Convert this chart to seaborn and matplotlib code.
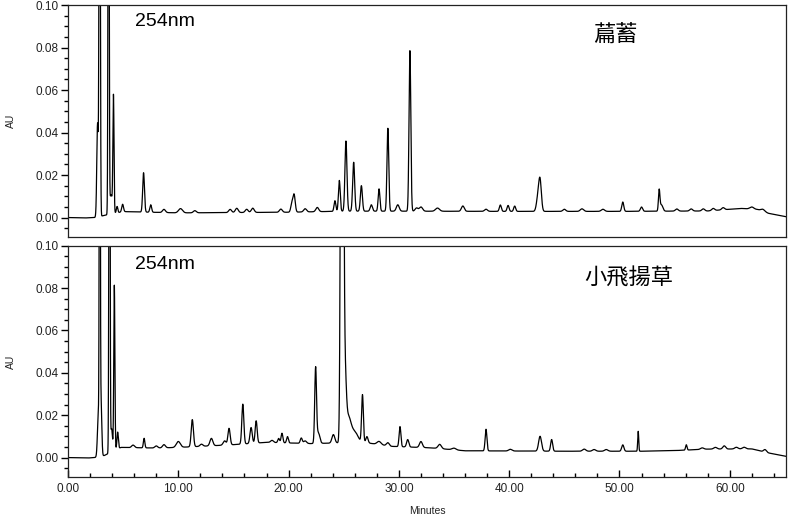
import numpy as np
import pandas as pd
import matplotlib
matplotlib.use("Agg")
import matplotlib.pyplot as plt
import seaborn as sns
from matplotlib.ticker import MultipleLocator, FormatStrFormatter

# ---------------- data ----------------
wavelength = "254nm"
top_name = "萹蓄"
bottom_name = "小飛揚草"
x_label = "Minutes"
y_label = "AU"

# top trace (萹蓄): baseline knots (min, AU)
top_base_t = [0.0, 1.5, 2.4, 3.3, 5.0, 10.0, 20.0, 25.0, 30.0, 40.0, 50.0, 58.0, 61.0, 62.5, 63.5, 65.3]
top_base_au = [0.0, -0.0002, 0.0, 0.001, 0.0028, 0.0022, 0.0025, 0.003, 0.003, 0.0029, 0.0029, 0.0031, 0.0043, 0.0038, 0.002, 0.0002]
# top trace peaks: retention time, height above baseline, width (sigma)
top_peak_t = [2.68, 2.87, 3.68, 3.9, 4.12, 4.45, 4.95, 6.85, 7.5, 8.7, 10.2, 11.5, 14.7, 15.3, 16.2,
              16.75, 19.3, 20.3, 20.5, 21.5, 22.6, 24.2, 24.6, 25.2, 25.9, 26.6, 27.5, 28.2, 29.0,
              29.9, 31.0, 31.6, 32.0, 33.5, 35.8, 37.9, 39.2, 39.9, 40.5, 42.6, 42.8, 45.0, 46.6,
              48.5, 50.3, 52.0, 53.6, 53.8, 55.2, 56.5, 57.6, 58.5, 59.4, 62.0, 63.0]
top_peak_h = [0.044, 0.30, 0.30, 0.009, 0.054, 0.003, 0.0035, 0.0185, 0.0035, 0.0015, 0.002, 0.001, 0.0015, 0.002, 0.0015,
              0.002, 0.0015, 0.004, 0.008, 0.0015, 0.002, 0.005, 0.0145, 0.033, 0.023, 0.012, 0.003, 0.0105, 0.039,
              0.003, 0.0755, 0.0015, 0.002, 0.0015, 0.0025, 0.001, 0.003, 0.0028, 0.0025, 0.006, 0.014, 0.001, 0.0012,
              0.001, 0.0044, 0.002, 0.0095, 0.003, 0.001, 0.001, 0.001, 0.001, 0.001, 0.001, 0.001]
top_peak_w = [0.07, 0.05, 0.045, 0.13, 0.05, 0.065, 0.08, 0.08, 0.08, 0.13, 0.18, 0.13, 0.13, 0.13, 0.13,
              0.13, 0.13, 0.1, 0.1, 0.13, 0.13, 0.08, 0.08, 0.09, 0.09, 0.09, 0.1, 0.08, 0.08,
              0.13, 0.08, 0.13, 0.15, 0.18, 0.13, 0.13, 0.09, 0.09, 0.09, 0.13, 0.12, 0.13, 0.15,
              0.15, 0.09, 0.1, 0.065, 0.13, 0.13, 0.13, 0.13, 0.13, 0.13, 0.18, 0.18]

# bottom trace (小飛揚草): baseline knots
bot_base_t = [0.0, 1.8, 2.4, 3.3, 4.8, 8.0, 10.0, 12.0, 15.0, 18.0, 22.0, 24.4, 27.2, 29.3, 32.9, 36.0, 45.0, 52.0, 55.0, 58.0, 62.0, 63.5, 65.3]
bot_base_au = [0.0, -0.0002, 0.0, 0.001, 0.0048, 0.0045, 0.0048, 0.0053, 0.0061, 0.0072, 0.0066, 0.0069, 0.0069, 0.0053, 0.0046, 0.0032, 0.003, 0.003, 0.0033, 0.004, 0.0041, 0.0022, 0.0004]
bot_peak_t = [2.75, 2.88, 3.0, 3.76, 3.95, 4.2, 4.5, 5.9, 6.9, 8.0, 8.7, 10.0, 11.27, 12.1, 13.0, 14.2,
              14.6, 15.85, 16.6, 17.06, 18.5, 19.1, 19.4, 19.9, 21.15, 21.5, 22.45, 22.7, 24.06, 24.85,
              25.1, 25.4, 26.0, 26.7, 27.1, 28.2, 29.0, 30.1, 30.8, 32.0, 33.7, 35.0, 37.9, 40.1,
              42.8, 43.85, 46.8, 47.7, 48.8, 50.3, 51.7, 56.06, 57.5, 58.7, 59.5, 60.6, 61.3, 63.2]
bot_peak_h = [0.02, 0.30, 0.025, 0.30, 0.011, 0.078, 0.008, 0.0012, 0.0045, 0.001, 0.0015, 0.0028, 0.0128, 0.001, 0.0035, 0.002,
              0.0078, 0.0188, 0.0075, 0.0105, 0.001, 0.002, 0.0045, 0.003, 0.0025, 0.0012, 0.0355, 0.005, 0.004, 0.5,
              0.03, 0.012, 0.005, 0.0225, 0.003, 0.0015, 0.0015, 0.0095, 0.0035, 0.0028, 0.002, 0.0008, 0.0102, 0.0008,
              0.007, 0.0055, 0.001, 0.0008, 0.0008, 0.003, 0.0094, 0.0025, 0.0007, 0.0008, 0.0015, 0.0008, 0.0008, 0.0012]
bot_peak_w = [0.08, 0.04, 0.065, 0.045, 0.08, 0.05, 0.065, 0.13, 0.065, 0.13, 0.13, 0.18, 0.1, 0.13, 0.13, 0.13,
              0.1, 0.09, 0.1, 0.09, 0.13, 0.08, 0.08, 0.08, 0.09, 0.13, 0.08, 0.13, 0.13, 0.1,
              0.12, 0.25, 0.3, 0.08, 0.1, 0.18, 0.13, 0.08, 0.1, 0.13, 0.15, 0.18, 0.08, 0.15,
              0.13, 0.09, 0.15, 0.15, 0.15, 0.1, 0.045, 0.065, 0.15, 0.15, 0.13, 0.15, 0.15, 0.13]


def trace(base_t, base_au, pk_t, pk_h, pk_w):
    t = np.arange(0.0, 65.3, 0.005)
    y = np.interp(t, base_t, base_au)
    for c, h, w in zip(pk_t, pk_h, pk_w):
        y = y + h * np.exp(-0.5 * ((t - c) / w) ** 2)
    return pd.DataFrame({"Minutes": t, "AU": y})


top_df = trace(top_base_t, top_base_au, top_peak_t, top_peak_h, top_peak_w)
bot_df = trace(bot_base_t, bot_base_au, bot_peak_t, bot_peak_h, bot_peak_w)

# ---------------- drawing ----------------
sns.set_style("ticks", rc={"xtick.bottom": True, "ytick.left": True})
plt.rcParams["font.family"] = ["Liberation Sans", "DejaVu Sans"]
plt.rcParams.update({
    "ytick.major.size": 5, "ytick.minor.size": 3, "xtick.major.size": 5, "xtick.minor.size": 3,
    "ytick.major.width": 1.0, "ytick.minor.width": 1.0, "xtick.major.width": 1.0, "xtick.minor.width": 1.0,
    "ytick.direction": "out", "xtick.direction": "in",
    "xtick.color": "black", "ytick.color": "black",
})

fig = plt.figure(figsize=(7.89, 5.21), dpi=100)
ax1 = fig.add_axes([0.0862, 0.5445, 0.910, 0.4459])
ax2 = fig.add_axes([0.0862, 0.0839, 0.910, 0.4445])

for ax, df, name, ty, nx, ny in [(ax1, top_df, top_name, 0.927, 0.762, 0.875),
                                  (ax2, bot_df, bottom_name, 0.917, 0.781, 0.861)]:
    sns.lineplot(data=df, x="Minutes", y="AU", ax=ax, color="black", lw=0.9,
                 estimator=None, sort=False)
    ax.set_xlim(0, 65.1)
    ax.set_ylim(-0.0093, 0.10)
    ax.yaxis.set_major_locator(MultipleLocator(0.02))
    ax.yaxis.set_minor_locator(MultipleLocator(0.005))
    ax.yaxis.set_major_formatter(FormatStrFormatter("%.2f"))
    ax.xaxis.set_major_locator(MultipleLocator(10))
    ax.xaxis.set_minor_locator(MultipleLocator(2))
    ax.xaxis.set_major_formatter(FormatStrFormatter("%.2f"))
    ax.tick_params(axis="y", which="both", left=True, right=False, direction="out",
                   width=1.0, color="black")
    ax.tick_params(axis="y", which="major", length=5, labelsize=8.5, pad=2, labelcolor="#222222")
    ax.tick_params(axis="y", which="minor", length=3)
    ax.tick_params(axis="x", which="both", bottom=True, top=False, direction="in",
                   width=1.0, color="black")
    ax.tick_params(axis="x", which="major", length=5, labelsize=8.5, pad=4, labelcolor="#222222")
    ax.tick_params(axis="x", which="minor", length=3)
    for s in ax.spines.values():
        s.set_visible(True)
        s.set_linewidth(0.9)
        s.set_color("#222222")
    ax.set_ylabel(y_label, fontsize=7.5, labelpad=14, color="#222222")
    ax.text(0.0933, ty, wavelength, transform=ax.transAxes, fontsize=14,
            ha="left", va="center", color="black")
    ax.text(nx, ny, name, transform=ax.transAxes, fontsize=16,
            ha="center", va="center", color="black",
            family=["Noto Sans CJK TC", "DejaVu Sans"])

ax1.set_xlabel("")
ax1.tick_params(axis="x", which="both", length=0, labelbottom=False)
ax2.set_xlabel(x_label, fontsize=7.5, labelpad=8, color="#222222")

fig.savefig("out.png", dpi=100)
